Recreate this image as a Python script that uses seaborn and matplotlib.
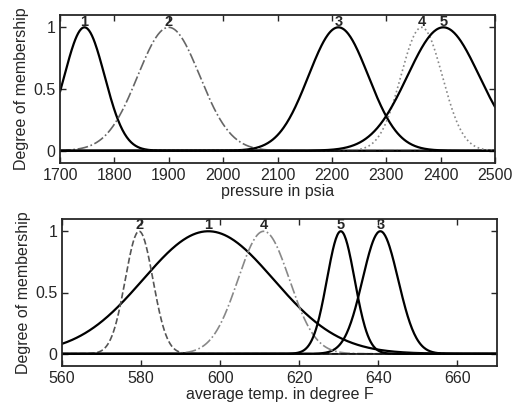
import numpy as np
import pandas as pd
import matplotlib
matplotlib.use("Agg")
import matplotlib.pyplot as plt
import seaborn as sns

# Gaussian membership functions: label, centre, sigma, line style
pressure_labels = ["1", "2", "3", "4", "5"]
pressure_centers = [1745, 1900, 2212, 2365, 2405]
pressure_sigmas = [37, 57, 55, 38, 66]
pressure_styles = ["-", "-.", "-", ":", "-"]
pressure_colors = ["black", "#666666", "black", "#888888", "black"]

temp_labels = ["1", "2", "3", "4", "5"]
temp_centers = [597, 579.5, 640.5, 611, 630.5]
temp_sigmas = [16.5, 3.5, 4.5, 6.5, 3.5]
temp_styles = ["-", "--", "-", "-.", "-"]
temp_colors = ["black", "#555555", "black", "#888888", "black"]

pressure_ticks = [1700, 1800, 1900, 2000, 2100, 2200, 2300, 2400, 2500]
temp_ticks = [560, 580, 600, 620, 640, 660]


def gaussmf(x, c, s):
    return np.exp(-((x - c) ** 2) / (2.0 * s ** 2))


sns.set_style("ticks")
plt.rcParams["font.family"] = ["Liberation Sans", "DejaVu Sans"]
plt.rcParams["xtick.direction"] = "in"
plt.rcParams["ytick.direction"] = "in"

fig = plt.figure(figsize=(5.32, 4.09), dpi=100)
ax1 = fig.add_axes([60 / 532, 1 - 163 / 409, 435 / 532, 148 / 409])
ax2 = fig.add_axes([62 / 532, 1 - 366 / 409, 435 / 532, 147 / 409])


def draw_panel(ax, labels, centers, sigmas, styles, colors, lo, hi, ticks, xlabel):
    x = np.linspace(lo, hi, 600)
    rows = []
    for lab, c, s in zip(labels, centers, sigmas):
        for xv in x:
            rows.append({"x": xv, "mf": lab, "y": gaussmf(xv, c, s)})
    df = pd.DataFrame(rows)
    for lab, st, col in zip(labels, styles, colors):
        sub = df[df["mf"] == lab]
        lw = 1.6 if st == "-" else 1.2
        sns.lineplot(data=sub, x="x", y="y", ax=ax, color=col, linestyle=st,
                     linewidth=lw, legend=False)
    for lab, c in zip(labels, centers):
        ax.text(c, 0.99, lab, ha="center", va="bottom", fontsize=10.5,
                fontweight="bold")
    ax.axhline(0, color="black", linewidth=1.1)
    ax.set_xlim(lo, hi)
    ax.set_ylim(-0.1, 1.1)
    ax.set_xticks(ticks)
    ax.set_yticks([0, 0.5, 1])
    ax.set_yticklabels(["0", "0.5", "1"])
    ax.tick_params(top=True, right=True, labelsize=11.5, length=4, width=1)
    ax.set_xlabel(xlabel, fontsize=11.5, labelpad=1)
    ax.set_ylabel("Degree of membership", fontsize=11.5, labelpad=3)
    for sp in ax.spines.values():
        sp.set_linewidth(1.3)


draw_panel(ax1, pressure_labels, pressure_centers, pressure_sigmas,
           pressure_styles, pressure_colors, 1700, 2500, pressure_ticks,
           "pressure in psia")
draw_panel(ax2, temp_labels, temp_centers, temp_sigmas, temp_styles,
           temp_colors, 560, 670, temp_ticks, "average temp. in degree F")

fig.savefig("out.png", dpi=100)
